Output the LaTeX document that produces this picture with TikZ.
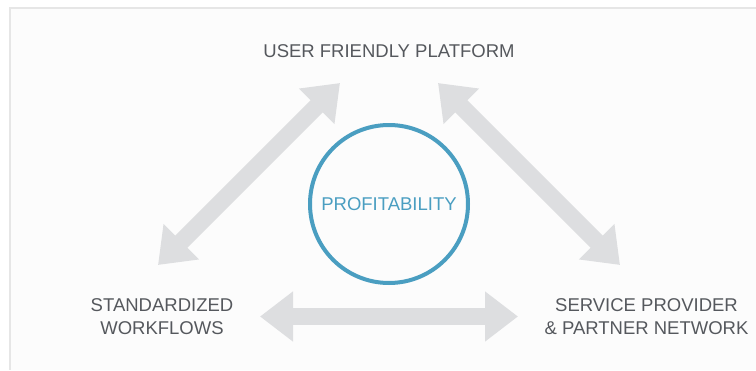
\documentclass[tikz,border=0pt]{standalone}
\usepackage{fontspec}
\setmainfont{Liberation Sans}
\usetikzlibrary{arrows.meta}

\definecolor{labelgray}{HTML}{55585D}
\definecolor{arrowgray}{HTML}{DDDEE0}
\definecolor{ringblue}{HTML}{4A9EC1}
\definecolor{framegray}{HTML}{E6E6E6}

\tikzset{
  labeltext/.style={text=labelgray, font=\fontsize{18.5}{23}\selectfont, align=center, inner sep=0pt},
  biarrow/.style={draw=arrowgray, line width=17pt,
    {Triangle[length=33pt,width=48pt]}-{Triangle[length=33pt,width=48pt]}},
}

\begin{document}
\begin{tikzpicture}[x=1pt,y=-1pt]
  \useasboundingbox (0,0) rectangle (756,370);
  \fill[white] (0,0) rectangle (756,370);
  \fill[black!1] (10,8) rectangle (756,370);
  \draw[framegray, line width=1.5pt] (10,370) -- (10,8) -- (756,8);

  % the three corners and the centre
  \node[labeltext, anchor=base] (platform) at (389,57) {USER FRIENDLY PLATFORM};
  \node[labeltext] (workflows) at (162,316.5) {STANDARDIZED\\WORKFLOWS};
  \node[labeltext] (network) at (646.5,316.5) {SERVICE PROVIDER\\\& PARTNER NETWORK};
  \node[circle, draw=ringblue, line width=4pt, minimum size=158pt, inner sep=0pt,
        text=ringblue, font=\fontsize{18.5}{23}\selectfont] (profit) at (389,204) {PROFITABILITY};

  % arrow ends
  \coordinate (platform-l) at (340,83);
  \coordinate (platform-r) at (438,83);
  \coordinate (workflows-t) at (158,265);
  \coordinate (workflows-r) at (260,316.5);
  \coordinate (network-t) at (620,265);
  \coordinate (network-l) at (518,316.5);

  \draw[biarrow] (platform-l) -- (workflows-t);
  \draw[biarrow] (platform-r) -- (network-t);
  \draw[biarrow] (workflows-r) -- (network-l);
\end{tikzpicture}
\end{document}
